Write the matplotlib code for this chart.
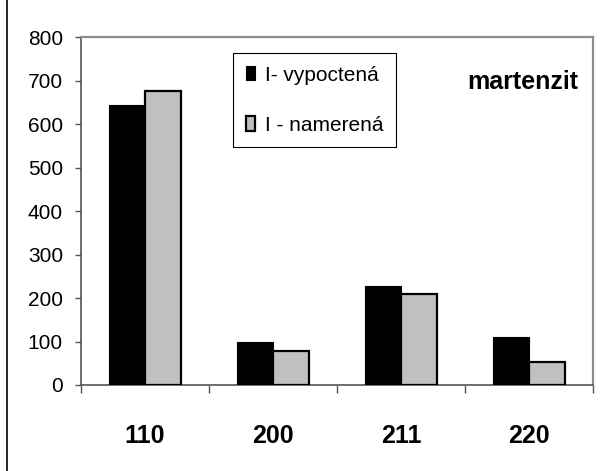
import numpy as np
import matplotlib.pyplot as plt
from matplotlib.patches import Rectangle

plt.rcParams['font.family'] = ['Liberation Sans', 'DejaVu Sans']

# intenzity difrakcnich linii martenzitu
reflexe = ['110', '200', '211', '220']
i_vypoctena = [644, 99, 228, 111]
i_namerena = [677, 79, 209, 54]
y_ticks = [0, 100, 200, 300, 400, 500, 600, 700, 800]

fig = plt.figure(figsize=(6.05, 4.71), dpi=100)
ax = fig.add_axes([81 / 605, 1 - 385 / 471, 512 / 605, 348 / 471])

x = np.arange(len(reflexe))
w = 0.28
ax.bar(x - w / 2, i_vypoctena, w, color='black', edgecolor='black', linewidth=0.8,
       label='I- vypoctená', zorder=3)
ax.bar(x + w / 2, i_namerena, w, color='#c0c0c0', edgecolor='black', linewidth=1.6,
       label='I - namerená', zorder=3)

ax.set_xlim(-0.5, len(reflexe) - 0.5)
ax.set_ylim(0, 800)
ax.set_yticks(y_ticks)
ax.tick_params(axis='y', direction='out', length=4, width=1, color='#555555',
               labelsize=15, pad=9)

# carky mezi kategoriemi, popisky uprostred
ax.set_xticks(np.arange(len(reflexe) + 1) - 0.5)
ax.set_xticklabels([])
ax.set_xticks(x, minor=True)
ax.set_xticklabels(reflexe, minor=True, fontsize=18, fontweight='bold')
ax.tick_params(axis='x', which='major', direction='out', length=6, width=1, color='#555555')
ax.tick_params(axis='x', which='minor', length=0, pad=28)

for side in ['left', 'bottom']:
    ax.spines[side].set_color('#555555')
    ax.spines[side].set_linewidth(1.2)
for side in ['top', 'right']:
    ax.spines[side].set_color('#8c8c8c')
    ax.spines[side].set_linewidth(1.6)

leg = ax.legend(loc='upper left', bbox_to_anchor=(0.297, 0.954), fontsize=15,
                frameon=True, fancybox=False, edgecolor='black', framealpha=1,
                handlelength=0.47, handleheight=0.67, handletextpad=0.45,
                labelspacing=1.5, borderpad=0.6, borderaxespad=0)
leg.get_frame().set_linewidth(0.8)

ax.text(0.971, 0.871, 'martenzit', transform=ax.transAxes, ha='right', va='center',
        fontsize=18, fontweight='bold')

# vnejsi ramecek grafu
fig.add_artist(Rectangle((7 / 605, -0.2), 1.2, 1.2 + 1 - 10 / 471, transform=fig.transFigure,
                         fill=False, edgecolor='black', linewidth=1.2))

fig.savefig('out.png', dpi=100, facecolor='white')
